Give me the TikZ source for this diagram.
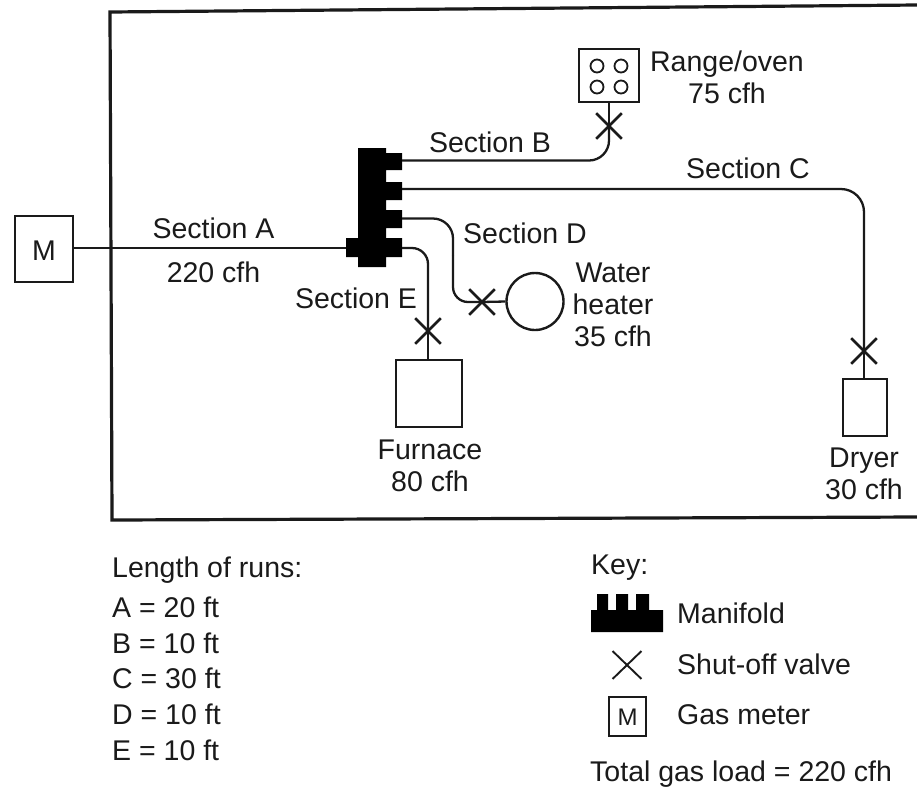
\documentclass[tikz,border=0pt]{standalone}
\usepackage{fontspec}
\setmainfont{Liberation Sans}
\usetikzlibrary{shapes.misc}
\definecolor{ink}{HTML}{1A1A1A}
\tikzset{
  x=1pt,y=-1pt,
  every node/.style={font=\fontsize{28.5}{32}\selectfont,text=ink,inner sep=0pt},
  pipe/.style={draw=ink,line width=2.3pt,rounded corners=20pt},
  boxn/.style={draw=ink,line width=2.6pt,fill=white,anchor=north west,outer sep=0pt},
  valve/.style={draw=ink,line width=2.6pt,cross out,minimum width=23pt,minimum height=23pt},
  lbl/.style={anchor=base},
  lines/.style={align=center},
  left lbl/.style={anchor=base west}
}
\begin{document}
\begin{tikzpicture}
\useasboundingbox (0,0) rectangle (917,788);
\fill[white] (0,0) rectangle (917,788);
% frame
\draw[ink,line width=3.2pt] (917,5) -- (110,12) -- (112,520) -- (917,517);
% equipment
\node[boxn,minimum width=58pt,minimum height=66pt] (meter) at (15,216) {};
\node[lbl] at (44,260) {M};
\node[boxn,minimum width=60pt,minimum height=53pt] (range) at (579,49) {};
\node[boxn,minimum width=66pt,minimum height=67pt] (furnace) at (396,360) {};
\node[boxn,minimum width=44pt,minimum height=57pt] (dryer) at (843,379) {};
\node[draw=ink,line width=2.4pt,circle,minimum size=57pt] (heater) at (535,301.5) {};
\foreach \px/\py in {597/66,621/66,597/87,621/87}
  \draw[ink,line width=1.8pt] (\px,\py) circle (6.5);
% manifold
\fill[black] (358,148) -- (386,148) -- (386,153) -- (402,153) -- (402,170) -- (386,170)
  -- (386,182) -- (402,182) -- (402,200) -- (386,200) -- (386,210) -- (402,210) -- (402,228)
  -- (386,228) -- (386,238) -- (402,238) -- (402,257) -- (386,257) -- (386,267) -- (358,267)
  -- (358,257) -- (346,257) -- (346,238) -- (358,238) -- cycle;
\coordinate (inA) at (346,248);
\coordinate (portB) at (402,160.5);
\coordinate (portC) at (402,189);
\coordinate (portD) at (402,218.5);
\coordinate (portE) at (402,248);
% valves
\node[valve] (vB) at (609,126) {};
\node[valve] (vC) at (864,351) {};
\node[valve] (vD) at (482,302) {};
\node[valve] (vE) at (428,331) {};
% pipes
\draw[pipe] (meter.east |- inA) -- (inA);
\draw[pipe] (portB) -- (609,160.5) -- (vB.center);
\draw[pipe] (vB.center) -- (range.south -| vB);
\draw[pipe,rounded corners=23pt] (portC) -- (864,189) -- (vC.center);
\draw[pipe] (vC.center) -- (dryer.north -| vC);
\draw[pipe,rounded corners=20pt] (portD) -- (453,218.5) -- (453,255);
\draw[pipe,rounded corners=15pt] (453,255) -- (453,302) -- (vD.center);
\draw[pipe] (vD.center) -- (heater.west);
\draw[pipe,rounded corners=16pt] (portE) -- (428,248) -- (vE.center);
\draw[pipe] (vE.center) -- (furnace.north -| vE);
% labels
\node[lbl] (tA) at (213.5,238) {Section A};
\node[lbl] (tAq) at (213.5,282) {220 cfh};
\node[lbl] (tB) at (490,152) {Section B};
\node[lbl] (tC) at (748,178) {Section C};
\node[lbl] (tD) at (525,243) {Section D};
\node[lbl] (tE) at (356,308) {Section E};
\node[lines] (tR) at (727,77) {Range/oven\\75 cfh};
\node[lines] (tW) at (613,305) {Water\\heater\\35 cfh};
\node[lines] (tF) at (430,466) {Furnace\\80 cfh};
\node[lines] (tDr) at (864,474) {Dryer\\30 cfh};
% lengths
\node[left lbl] (l0) at (112,577) {Length of runs:};
\node[left lbl] (l1) at (112,617) {A = 20 ft};
\node[left lbl] (l2) at (112,653) {B = 10 ft};
\node[left lbl] (l3) at (112,688) {C = 30 ft};
\node[left lbl] (l4) at (112,724) {D = 10 ft};
\node[left lbl] (l5) at (112,760) {E = 10 ft};
% key
\node[left lbl] (k0) at (591,574) {Key:};
\fill[black] (591,610) -- (597,610) -- (597,594) -- (608,594) -- (608,610) -- (616,610) -- (616,594)
  -- (628,594) -- (628,610) -- (636,610) -- (636,594) -- (649,594) -- (649,610) -- (663,610)
  -- (663,632) -- (591,632) -- cycle;
\node[left lbl] (k1) at (677,623) {Manifold};
\node[valve,line width=1.9pt,minimum width=27pt,minimum height=26pt] (kv) at (627,665) {};
\node[left lbl] (k2) at (677,674) {Shut-off valve};
\node[boxn,line width=2.4pt,minimum width=37pt,minimum height=39pt] (km) at (609,697) {};
\node[lbl,font=\fontsize{24}{28}\selectfont] at (627.5,725) {M};
\node[left lbl] (k3) at (677,724) {Gas meter};
\node[left lbl] (k4) at (590,781) {Total gas load = 220 cfh};
\end{tikzpicture}
\end{document}
